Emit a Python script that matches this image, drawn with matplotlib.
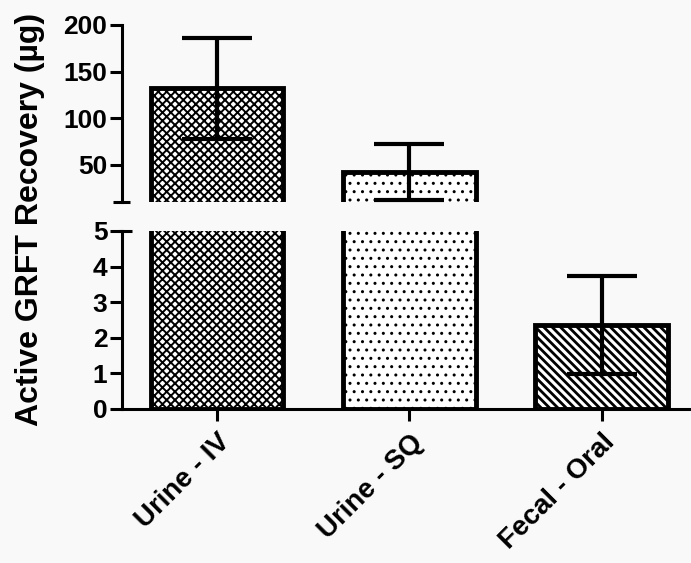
import matplotlib
matplotlib.use("Agg")
import matplotlib.pyplot as plt
import numpy as np

# data
groups = ["Urine - IV", "Urine - SQ", "Fecal - Oral"]
means = [132, 42.5, 2.36]
sds = [54, 30, 1.39]
hatches = ["xxxx", "..", "\\\\\\\\"]

plt.rcParams['font.family'] = ['Liberation Sans', 'DejaVu Sans']
plt.rcParams['font.weight'] = 'bold'
plt.rcParams['hatch.color'] = 'black'

bg = "#f9f9f9"
fig = plt.figure(figsize=(6.91, 5.63), dpi=100, facecolor=bg)
left, width = 122 / 691, 568 / 691
ax_top = fig.add_axes([left, 1 - 202 / 563, width, 177 / 563])
ax_bot = fig.add_axes([left, 1 - 409 / 563, width, 178 / 563])

x = np.arange(len(groups))
hatch_lw = [1.4, 1.0, 2.0]

for ax in (ax_top, ax_bot):
    ax.set_facecolor(bg)
    bars = ax.bar(x, means, width=0.69, color="white", edgecolor="black",
                  linewidth=3.5, zorder=2)
    for b, h, lw in zip(bars, hatches, hatch_lw):
        b.set_hatch(h)
        if hasattr(b, "set_hatch_linewidth"):
            b.set_hatch_linewidth(lw)
    ax.errorbar(x, means, yerr=sds, fmt="none", ecolor="black",
                elinewidth=3, capsize=25, capthick=3, zorder=3)
    ax.set_xlim(-0.495, 2.46)
    for s in ("top", "right"):
        ax.spines[s].set_visible(False)
    ax.spines["left"].set_linewidth(2.2)
    ax.spines["bottom"].set_linewidth(2.2)
    ax.tick_params(width=2.2, length=8.5, labelsize=19, pad=2)

ax_top.set_ylim(10, 200)
ax_top.set_yticks([50, 100, 150, 200])
ax_top.spines["bottom"].set_visible(False)
ax_top.set_xticks([])

ax_bot.set_ylim(0, 5)
ax_bot.set_yticks(range(6))
ax_bot.set_xticks(x)
ax_bot.set_xticklabels(groups, rotation=45, ha="right", rotation_mode="anchor",
                       fontsize=20)
ax_bot.tick_params(axis="x", pad=6)

# break marks
ax_top.plot([-0.016, 0.014], [0, 0], transform=ax_top.transAxes, color="black",
            lw=2.2, clip_on=False, solid_capstyle="butt")
ax_bot.plot([-0.007, 0.018], [1, 1], transform=ax_bot.transAxes, color="black",
            lw=2.2, clip_on=False, solid_capstyle="butt")

fig.text(30 / 691, 1 - 219 / 563, "Active GRFT Recovery (µg)", rotation=90,
         ha="center", va="center", fontsize=23, fontweight="bold")

fig.savefig("out.png", dpi=100, facecolor=bg)
